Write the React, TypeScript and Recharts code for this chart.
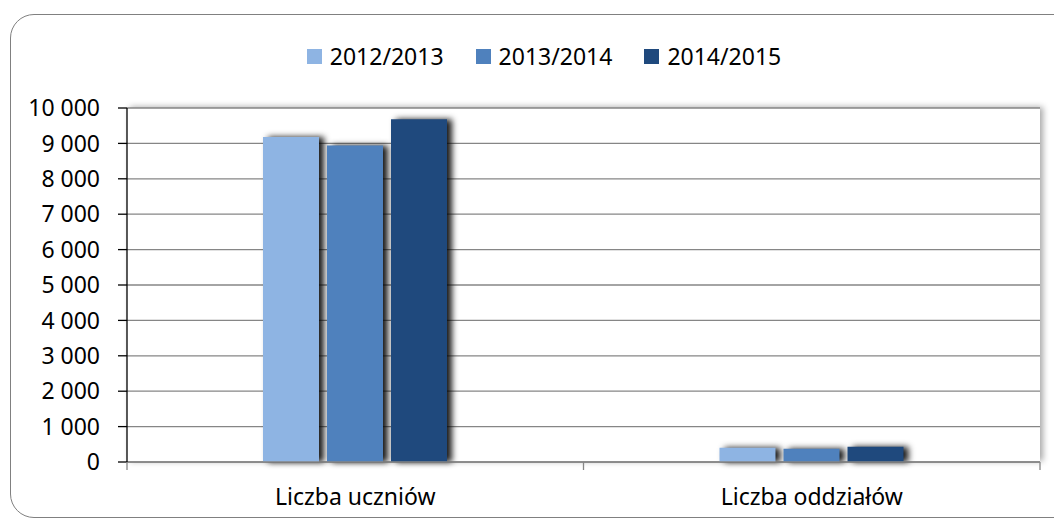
import React from 'react';
import { BarChart, Bar, XAxis, YAxis, CartesianGrid, Legend } from 'recharts';

const categories = ['Liczba uczniów', 'Liczba oddziałów'];
const series2012 = [9180, 404];
const series2013 = [8940, 376];
const series2014 = [9680, 432];
const seriesNames = ['2012/2013', '2013/2014', '2014/2015'];
const seriesColors = ['#8EB4E3', '#4F81BD', '#1F497D'];
const yTicks = [0, 1000, 2000, 3000, 4000, 5000, 6000, 7000, 8000, 9000, 10000];

const data = categories.map((c, i) => ({
  name: c,
  s0: series2012[i],
  s1: series2013[i],
  s2: series2014[i],
}));

const FONT = '"Noto Sans", sans-serif';
const X_TICK_SIZE = 8;
const X_TICK_MARGIN = 19;
const PLOT_WIDTH = 913;

const fmt = (v: number) => String(v).replace(/\B(?=(\d{3})+(?!\d))/g, ' ');

const CategoryTick = (props: any) => {
  const { x, y, payload, index, visibleTicksCount, width } = props;
  const count = visibleTicksCount || categories.length;
  const w = typeof width === 'number' && width > 0 ? width : PLOT_WIDTH;
  const band = w / count;
  const axisY = y - X_TICK_SIZE - X_TICK_MARGIN;
  return (
    <g>
      <line x1={x - band / 2} x2={x - band / 2} y1={axisY} y2={axisY + X_TICK_SIZE} stroke="#868686" strokeWidth={1.3} />
      {index === count - 1 && (
        <line x1={x + band / 2} x2={x + band / 2} y1={axisY} y2={axisY + X_TICK_SIZE} stroke="#868686" strokeWidth={1.3} />
      )}
      <text x={x} y={y} dy="0.71em" textAnchor="middle" fill="#000" fontSize={23} fontFamily={FONT}>
        {payload.value}
      </text>
    </g>
  );
};

const LegendContent = (props: any) => {
  const payload = props.payload || [];
  return (
    <div style={{ display: 'flex', justifyContent: 'center', fontFamily: FONT, fontSize: 23, color: '#000' }}>
      {payload.map((p: any, i: number) => (
        <div key={i} style={{ display: 'flex', alignItems: 'center', marginRight: i < payload.length - 1 ? 32 : 0 }}>
          <span style={{ display: 'inline-block', width: 15, height: 15, background: p.color, marginRight: 8 }} />
          <span>{p.value}</span>
        </div>
      ))}
    </div>
  );
};

export default function App() {
  return (
    <div style={{ position: 'absolute', left: 0, top: 0, width: 1054, height: 520, background: '#fff', overflow: 'hidden' }}>
      <style>{`
        .recharts-bar-rectangle .recharts-rectangle { filter: drop-shadow(5px 0px 3px rgba(0,0,0,0.9)); }
        .recharts-cartesian-grid-bg { filter: drop-shadow(3px -1px 3px rgba(0,0,0,0.35)); }
      `}</style>
      <div style={{ position: 'absolute', left: 10, top: 14, width: 1070, height: 504, border: '1.5px solid #808080', borderRadius: 24, boxSizing: 'border-box' }} />
      <div style={{ position: 'absolute', left: 0, top: 0 }}>
        <BarChart
          width={1054}
          height={520}
          data={data}
          margin={{ top: 108, right: 14, bottom: 28, left: 0 }}
          barSize={56}
          barGap={8}
        >
          <CartesianGrid vertical={false} stroke="#868686" strokeWidth={1.3} fill="#fff" />
          <XAxis
            dataKey="name"
            height={30}
            interval={0}
            tickLine={false}
            axisLine={{ stroke: '#868686', strokeWidth: 1.3 }}
            tickSize={X_TICK_SIZE}
            tickMargin={X_TICK_MARGIN}
            tick={<CategoryTick />}
          />
          <YAxis
            width={127}
            domain={[0, 10000]}
            ticks={yTicks}
            interval={0}
            tickFormatter={fmt}
            axisLine={{ stroke: '#000', strokeWidth: 1.3 }}
            tickLine={{ stroke: '#000', strokeWidth: 1.3 }}
            tickSize={9}
            tickMargin={18}
            tick={{ fill: '#000', fontSize: 23, fontFamily: FONT }}
          />
          <Legend layout="horizontal" verticalAlign="middle" align="center" content={<LegendContent />} wrapperStyle={{ top: 40, left: 17, width: 1054 }} />
          <Bar dataKey="s0" name={seriesNames[0]} fill={seriesColors[0]} isAnimationActive={false} />
          <Bar dataKey="s1" name={seriesNames[1]} fill={seriesColors[1]} isAnimationActive={false} />
          <Bar dataKey="s2" name={seriesNames[2]} fill={seriesColors[2]} isAnimationActive={false} />
        </BarChart>
      </div>
    </div>
  );
}
